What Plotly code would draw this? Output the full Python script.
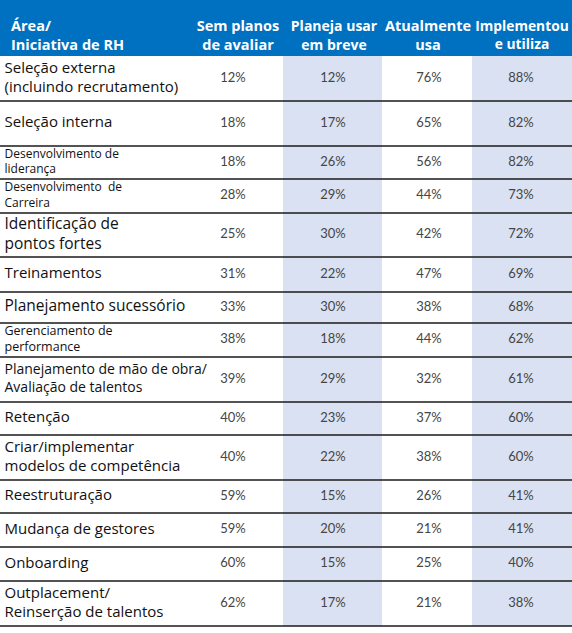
import numpy as np
import plotly.graph_objects as go

# ---------------- data ----------------
header_area = "Área/<br>Iniciativa de RH"
columns = ["Sem planos<br>de avaliar", "Planeja usar<br>em breve", "Atualmente<br>usa", "Implementou<br>e utiliza"]

areas = [
    "Seleção externa<br>(incluindo recrutamento)",
    "Seleção interna",
    "Desenvolvimento de<br>liderança",
    "Desenvolvimento  de<br>Carreira",
    "Identificação de<br>pontos fortes",
    "Treinamentos",
    "Planejamento sucessório",
    "Gerenciamento de<br>performance",
    "Planejamento de mão de obra/<br>Avaliação de talentos",
    "Retenção",
    "Criar/implementar<br>modelos de competência",
    "Reestruturação",
    "Mudança de gestores",
    "Onboarding",
    "Outplacement/<br>Reinserção de talentos",
]
sem_planos = [12, 18, 18, 28, 25, 31, 33, 38, 39, 40, 40, 59, 59, 60, 62]
planeja_usar = [12, 17, 26, 29, 30, 22, 30, 18, 29, 23, 22, 15, 20, 15, 17]
atualmente_usa = [76, 65, 56, 44, 42, 47, 38, 44, 32, 37, 38, 26, 21, 25, 21]
implementou = [88, 82, 82, 73, 72, 69, 68, 62, 61, 60, 60, 41, 41, 40, 38]

# ---------------- layout / style ----------------
W, H = 572, 633
header_h = 56
row_heights = [45, 45, 33, 34, 44, 35, 31, 34, 45, 33, 45, 33, 34, 34, 45]
label_sizes = [15, 15, 12, 12, 15.5, 15, 15.5, 12.5, 14, 15, 15, 15, 15, 15, 15]
header_sizes = [14.5, 14, 14.5, 13.8]
col_edges = [0, 190, 283, 382, 472, 572]
col_centers = [238, 334, 428, 522]
value_centers = [233, 333, 429, 521]
shaded = [False, True, False, True]

BLUE = "#0070C0"
SHADE = "#D9E1F2"
LINE = "#1a1a1a"
LABEL_FONT = "Open Sans, sans-serif"
NUM_FONT = "Lato, sans-serif"

bounds = np.concatenate([[header_h], header_h + np.cumsum(row_heights)])
centers = (bounds[:-1] + bounds[1:]) / 2

fig = go.Figure()
shapes = []
# header background
shapes.append(dict(type="rect", xref="x", yref="y", x0=0, x1=W, y0=0, y1=header_h,
                   fillcolor=BLUE, line=dict(width=0), layer="below"))
# shaded columns
for i, s in enumerate(shaded):
    if s:
        shapes.append(dict(type="rect", xref="x", yref="y",
                           x0=col_edges[i + 1], x1=col_edges[i + 2],
                           y0=header_h, y1=bounds[-1],
                           fillcolor=SHADE, line=dict(width=0), layer="below"))
# horizontal lines
for b in bounds[1:]:
    shapes.append(dict(type="line", xref="x", yref="y", x0=0, x1=W, y0=b, y1=b,
                       line=dict(color=LINE, width=1.5)))

# header texts
fig.add_trace(go.Scatter(x=[11], y=[37], mode="text", text=["<b>" + header_area + "</b>"],
                         textposition="middle right",
                         textfont=dict(family=LABEL_FONT, size=14.5, color="white"),
                         hoverinfo="skip", showlegend=False))
fig.add_trace(go.Scatter(x=col_centers, y=[37] * 4, mode="text",
                         text=["<b>" + c + "</b>" for c in columns],
                         textposition="middle center",
                         textfont=dict(family=LABEL_FONT, size=header_sizes, color="white"),
                         hoverinfo="skip", showlegend=False))

# row labels
fig.add_trace(go.Scatter(x=[4.5] * len(areas), y=centers, mode="text", text=areas,
                         textposition="middle right",
                         textfont=dict(family=LABEL_FONT, size=label_sizes, color="#111111"),
                         hoverinfo="skip", showlegend=False))

# values
for xc, vals in zip(value_centers, [sem_planos, planeja_usar, atualmente_usa, implementou]):
    fig.add_trace(go.Scatter(x=[xc] * len(vals), y=centers, mode="text",
                             text=[f"{v}%" for v in vals],
                             textposition="middle center",
                             textfont=dict(family=NUM_FONT, size=13, color="#454545"),
                             hoverinfo="skip", showlegend=False))

fig.update_layout(
    width=W, height=H,
    margin=dict(l=0, r=0, t=0, b=0),
    paper_bgcolor="white", plot_bgcolor="white",
    xaxis=dict(range=[0, W], visible=False, fixedrange=True),
    yaxis=dict(range=[H, 0], visible=False, fixedrange=True),
    shapes=shapes,
)
fig.write_html("out.html", config={"displayModeBar": False},
               post_script="document.body.style.margin='0px';document.body.style.overflow='hidden';")
